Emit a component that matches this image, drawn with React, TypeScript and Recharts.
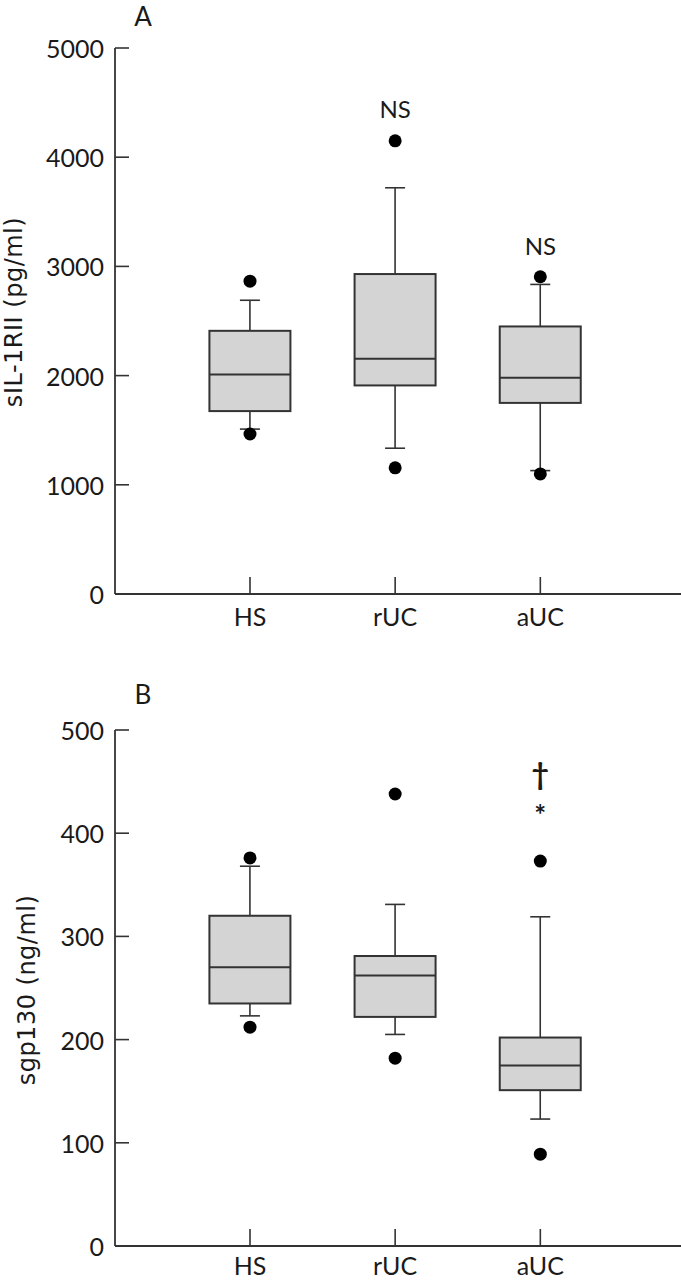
import React from 'react';
import { ComposedChart, Bar, Scatter, XAxis, YAxis } from 'recharts';

const categories = ['HS', 'rUC', 'aUC'];
const positions = [1, 2, 3];

// panel A - sIL-1RII (pg/ml)
const aLow = [1510, 1335, 1130];
const aQ1 = [1675, 1910, 1750];
const aMedian = [2010, 2155, 1980];
const aQ3 = [2410, 2930, 2450];
const aHigh = [2690, 3720, 2835];
const aOutliers = [
  [2865, 1465],
  [4150, 1155],
  [2905, 1100],
];
const aTicks = [0, 1000, 2000, 3000, 4000, 5000];
const aNotes = [
  { pos: 2, value: 4450, text: 'NS' },
  { pos: 3, value: 3195, text: 'NS' },
];

// panel B - sgp130 (ng/ml)
const bLow = [223, 205, 123];
const bQ1 = [235, 222, 151];
const bMedian = [270, 262, 175];
const bQ3 = [320, 281, 202];
const bHigh = [368, 331, 319];
const bOutliers = [
  [376, 212],
  [438, 182],
  [373, 89],
];
const bTicks = [0, 100, 200, 300, 400, 500];
const bNotes = [
  { pos: 3, value: 458, text: '†' },
  { pos: 3, value: 423, text: '*' },
];

const FONT = 'Lato, "Liberation Sans", sans-serif';
const TITLE_FONT = '"DejaVu Sans", sans-serif';
const INK = '#1a1a1a';
const LINE = '#333';

const buildBoxes = (lo: number[], q1: number[], med: number[], q3: number[], hi: number[]) =>
  positions.map((pos, i) => ({
    pos,
    box: [q1[i], q3[i]],
    lo: lo[i],
    q1: q1[i],
    med: med[i],
    q3: q3[i],
    hi: hi[i],
  }));

const buildOutliers = (outliers: number[][]) =>
  outliers.flatMap((vals, i) => vals.map((value) => ({ pos: positions[i], value })));

const BoxShape = (props: any) => {
  const { x, y, width, height, payload } = props;
  if (x == null || y == null) return null;
  const top = Math.min(y, y + height);
  const h = Math.abs(height);
  const k = h / (payload.q3 - payload.q1);
  const py = (v: number) => top + (payload.q3 - v) * k;
  const cx = x + width / 2;
  const cap = 10;
  const yHi = py(payload.hi);
  const yLo = py(payload.lo);
  const yMed = py(payload.med);
  return (
    <g>
      <line x1={cx} x2={cx} y1={yHi} y2={top} stroke={LINE} strokeWidth={1.6} />
      <line x1={cx} x2={cx} y1={top + h} y2={yLo} stroke={LINE} strokeWidth={1.6} />
      <line x1={cx - cap} x2={cx + cap} y1={yHi} y2={yHi} stroke={LINE} strokeWidth={1.6} />
      <line x1={cx - cap} x2={cx + cap} y1={yLo} y2={yLo} stroke={LINE} strokeWidth={1.6} />
      <rect x={x} y={top} width={width} height={h} fill="#d4d4d4" stroke={LINE} strokeWidth={2} />
      <line x1={x} x2={x + width} y1={yMed} y2={yMed} stroke={LINE} strokeWidth={2} />
    </g>
  );
};

const Dot = (props: any) => {
  const { cx, cy } = props;
  if (cx == null || cy == null) return null;
  return <circle cx={cx} cy={cy} r={6.5} fill="#000" />;
};

const Note = (props: any) => {
  const { cx, cy, payload } = props;
  if (cx == null || cy == null) return null;
  if (payload.text === '*') {
    return (
      <text x={cx} y={cy + 16} textAnchor="middle" fontFamily={FONT} fontSize={28} fontWeight={700} fill={INK}>
        *
      </text>
    );
  }
  const isDagger = payload.text === '†';
  return (
    <text
      x={cx}
      y={cy}
      textAnchor="middle"
      dominantBaseline="central"
      fontFamily={FONT}
      fontSize={isDagger ? 30 : 24}
      fontWeight={isDagger ? 700 : 400}
      fill={INK}
    >
      {payload.text}
    </text>
  );
};

const makeXTick = (labelDy: number) => (props: any) => {
  const { x, y, payload } = props;
  const idx = positions.indexOf(payload.value);
  return (
    <g>
      <line x1={x} x2={x} y1={y} y2={y - 17} stroke={LINE} strokeWidth={1.6} />
      <text x={x} y={y + labelDy} textAnchor="middle" fontFamily={FONT} fontSize={25} fill={INK}>
        {categories[idx]}
      </text>
    </g>
  );
};

const YTick = (props: any) => {
  const { x, y, payload } = props;
  return (
    <g>
      {payload.value !== 0 && <line x1={x} x2={x + 14} y1={y} y2={y} stroke={LINE} strokeWidth={1.6} />}
      <text x={x - 11} y={y} textAnchor="end" dominantBaseline="central" fontFamily={FONT} fontSize={25} fill={INK}>
        {payload.value}
      </text>
    </g>
  );
};

const AxisTitle = (props: any) => {
  const { viewBox, text, cx, shift } = props;
  if (!viewBox) return null;
  const cy = viewBox.y + viewBox.height / 2 + shift;
  return (
    <text
      x={cx}
      y={cy}
      transform={`rotate(-90 ${cx} ${cy})`}
      textAnchor="middle"
      dominantBaseline="central"
      fontFamily={TITLE_FONT}
      fontSize={24}
      letterSpacing={0.5}
      fill={INK}
    >
      {text}
    </text>
  );
};

interface PanelProps {
  top: number;
  marginTop: number;
  xAxisHeight: number;
  labelDy: number;
  ticks: number[];
  title: string;
  titleX: number;
  titleShift: number;
  letter: string;
  letterY: number;
  boxes: any[];
  outliers: any[];
  notes: any[];
}

const Panel = ({
  top,
  marginTop,
  xAxisHeight,
  labelDy,
  ticks,
  title,
  titleX,
  titleShift,
  letter,
  letterY,
  boxes,
  outliers,
  notes,
}: PanelProps) => (
  <div style={{ position: 'absolute', left: 0, top, width: 681, height: 640, overflow: 'hidden' }}>
    <div
      style={{
        position: 'absolute',
        left: 143,
        top: letterY,
        transform: 'translateX(-50%)',
        fontFamily: FONT,
        fontSize: 26,
        color: INK,
        lineHeight: 1,
      }}
    >
      {letter}
    </div>
    <ComposedChart width={700} height={640} data={boxes} margin={{ top: marginTop, right: 0, bottom: 0, left: 0 }}>
      <XAxis
        type="number"
        dataKey="pos"
        domain={[0.07, 4.1]}
        allowDataOverflow
        ticks={positions}
        height={xAxisHeight}
        axisLine={{ stroke: LINE, strokeWidth: 1.8 }}
        tickLine={false}
        tickSize={0}
        tickMargin={0}
        tick={makeXTick(labelDy)}
        interval={0}
      />
      <YAxis
        type="number"
        domain={[ticks[0], ticks[ticks.length - 1]]}
        allowDataOverflow
        ticks={ticks}
        width={115}
        axisLine={{ stroke: LINE, strokeWidth: 1.8 }}
        tickLine={false}
        tickSize={0}
        tickMargin={0}
        tick={<YTick />}
        interval={0}
        label={<AxisTitle text={title} cx={titleX} shift={titleShift} />}
      />
      <Bar dataKey="box" barSize={81} shape={<BoxShape />} isAnimationActive={false} />
      <Scatter data={outliers} dataKey="value" shape={<Dot />} isAnimationActive={false} />
      <Scatter data={notes} dataKey="value" shape={<Note />} isAnimationActive={false} />
    </ComposedChart>
  </div>
);

export default function App() {
  const boxesA = buildBoxes(aLow, aQ1, aMedian, aQ3, aHigh);
  const boxesB = buildBoxes(bLow, bQ1, bMedian, bQ3, bHigh);
  return (
    <div style={{ position: 'absolute', left: 0, top: 0, width: 681, height: 1280, overflow: 'hidden', background: '#fff' }}>
      <Panel
        top={0}
        marginTop={48}
        xAxisHeight={46}
        labelDy={32}
        ticks={aTicks}
        title="sIL-1RII (pg/ml)"
        titleX={14}
        titleShift={-9}
        letter="A"
        letterY={3}
        boxes={boxesA}
        outliers={buildOutliers(aOutliers)}
        notes={aNotes}
      />
      <Panel
        top={640}
        marginTop={90}
        xAxisHeight={34}
        labelDy={29}
        ticks={bTicks}
        title="sgp130 (ng/ml)"
        titleX={27}
        titleShift={2}
        letter="B"
        letterY={41}
        boxes={boxesB}
        outliers={buildOutliers(bOutliers)}
        notes={bNotes}
      />
    </div>
  );
}
